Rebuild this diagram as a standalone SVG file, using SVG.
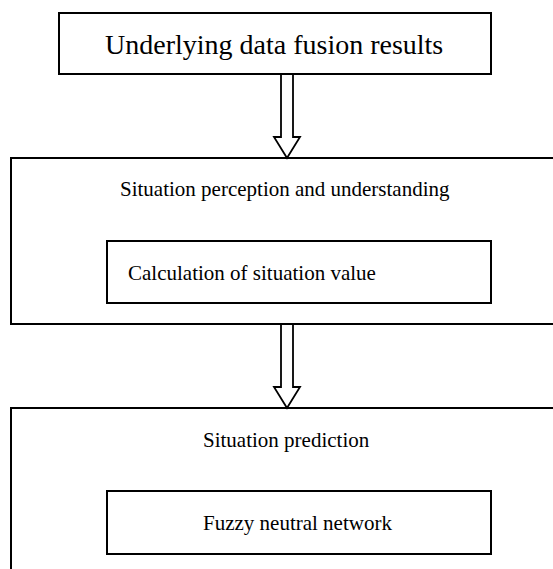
<svg xmlns="http://www.w3.org/2000/svg" width="553" height="569" viewBox="0 0 553 569">
<style>
.box{fill:#fff;stroke:#000;stroke-width:2}
.arrow{fill:#fff;stroke:#000;stroke-width:1.8;stroke-linejoin:miter}
text{font-family:"Liberation Serif","Times New Roman",serif;fill:#000}
.big{font-size:28px}
.t{font-size:21px}
</style>
<rect width="553" height="569" fill="#fff"/>
<g id="fusion">
<rect class="box" x="59" y="13" width="432" height="61"/>
<text class="big" x="105" y="54">Underlying data fusion results</text>
</g>
<g id="perception">
<rect class="box" x="11" y="158" width="570" height="166"/>
<text class="t" x="120" y="196">Situation perception and understanding</text>
</g>
<g id="calculation">
<rect class="box" x="107" y="241" width="384" height="62"/>
<text class="t" x="128" y="280">Calculation of situation value</text>
</g>
<g id="prediction">
<rect class="box" x="11" y="408" width="570" height="200"/>
<text class="t" x="203" y="447">Situation prediction</text>
</g>
<g id="fuzzy">
<rect class="box" x="107" y="491" width="384" height="63"/>
<text class="t" x="203" y="530">Fuzzy neutral network</text>
</g>
<g id="connectors">
<polygon class="arrow" points="281,74 281,137 274,137 287,158 300,137 293,137 293,74"/>
<polygon class="arrow" points="281,324 281,387 274,387 287,408 300,387 293,387 293,324"/>
</g>
</svg>
